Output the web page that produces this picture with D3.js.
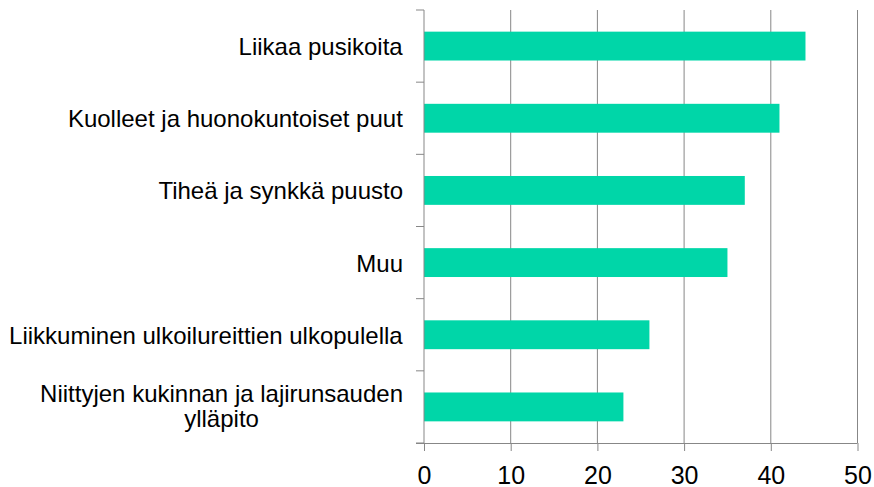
<!DOCTYPE html>
<html>
<head>
<meta charset="utf-8">
<script src="https://cdn.jsdelivr.net/npm/d3@7"></script>
<style>
  html, body { margin: 0; padding: 0; background: #fff; }
  svg { display: block; font-family: "Liberation Sans", Arial, sans-serif; }
</style>
</head>
<body>
<svg id="chart" width="874" height="487"></svg>
<script>
// Categories top to bottom, with their counts
const categories = [
  "Liikaa pusikoita",
  "Kuolleet ja huonokuntoiset puut",
  "Tiheä ja synkkä puusto",
  "Muu",
  "Liikkuminen ulkoilureittien ulkopulella",
  "Niittyjen kukinnan ja lajirunsauden ylläpito"
];
const values = [44, 41, 37, 35, 26, 23];
// Category labels split into display lines
const labelLines = [
  ["Liikaa pusikoita"],
  ["Kuolleet ja huonokuntoiset puut"],
  ["Tiheä ja synkkä puusto"],
  ["Muu"],
  ["Liikkuminen ulkoilureittien ulkopulella"],
  ["Niittyjen kukinnan ja lajirunsauden", "ylläpito"]
];
const xTicks = [0, 10, 20, 30, 40, 50];

const barColor = "#00d6a8";
const gridColor = "#878787";

const svg = d3.select("#chart");
const plotLeft = 424, plotRight = 857.5, plotTop = 10, plotBottom = 443;

const x = d3.scaleLinear().domain([0, 50]).range([plotLeft, plotRight]);
const y = d3.scaleBand().domain(categories).range([plotTop, plotBottom])
  .paddingInner(0.6).paddingOuter(0.3);

// Vertical gridlines
svg.append("g").selectAll("line")
  .data(xTicks.slice(1))
  .join("line")
  .attr("x1", d => x(d)).attr("x2", d => x(d))
  .attr("y1", plotTop).attr("y2", plotBottom)
  .attr("stroke", gridColor).attr("stroke-width", 1);

// Bars
svg.append("g").selectAll("rect")
  .data(categories)
  .join("rect")
  .attr("x", x(0))
  .attr("y", d => y(d))
  .attr("width", (d, i) => x(values[i]) - x(0))
  .attr("height", y.bandwidth())
  .attr("fill", barColor);

// Bottom axis
const xAxis = d3.axisBottom(x).tickValues(xTicks).tickSize(8).tickPadding(15)
  .tickFormat(d3.format("d"));
const gx = svg.append("g").attr("transform", `translate(0,${plotBottom})`).call(xAxis);
gx.select(".domain").attr("d", `M${plotLeft - 8},0.5H${plotRight}`).attr("stroke", gridColor);
gx.selectAll(".tick line").attr("stroke", gridColor);
gx.selectAll(".tick text").attr("fill", "#000").attr("font-size", 25)
  .attr("font-family", "Liberation Sans, Arial, sans-serif");

// Left axis line with ticks at category boundaries
const step = y.step();
const bandStart = y(categories[0]) - step * y.paddingInner() / 2;
const boundaries = d3.range(categories.length + 1).map(i => bandStart + i * step);
svg.append("line")
  .attr("x1", plotLeft).attr("x2", plotLeft).attr("y1", plotTop).attr("y2", plotBottom)
  .attr("stroke", gridColor);
svg.append("g").selectAll("line")
  .data(boundaries)
  .join("line")
  .attr("x1", plotLeft - 8).attr("x2", plotLeft)
  .attr("y1", d => d).attr("y2", d => d)
  .attr("stroke", gridColor);

// Category labels, right aligned against the axis; wrapped lines centred on each other
const labelRight = 403;
const lineHeight = 25;
const lg = svg.append("g").attr("font-size", 24).attr("fill", "#000");
categories.forEach((c, i) => {
  const lines = labelLines[i];
  const cy = y(c) + y.bandwidth() / 2 - (lines.length > 1 ? 1.5 : 0);
  const t = lg.append("text").attr("text-anchor", "middle").attr("dominant-baseline", "central");
  lines.forEach((ln, j) => {
    t.append("tspan").attr("x", 0)
      .attr("y", cy + (j - (lines.length - 1) / 2) * lineHeight).text(ln);
  });
  const w = t.node().getBBox().width;
  t.selectAll("tspan").attr("x", labelRight - w / 2);
});
</script>
</body>
</html>
